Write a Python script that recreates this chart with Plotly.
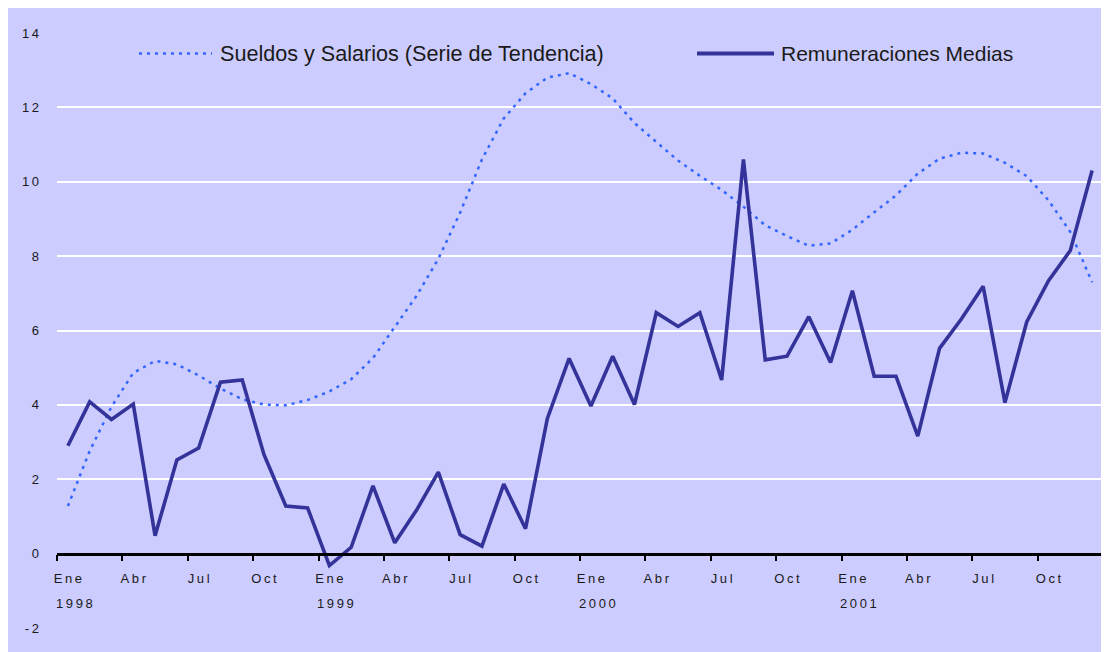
import plotly.graph_objects as go

# ---- data -------------------------------------------------------------
months = ["Ene", "Feb", "Mar", "Abr", "May", "Jun", "Jul", "Ago", "Sep", "Oct", "Nov", "Dic"]
years = ["1998", "1999", "2000", "2001"]

remuneraciones = [
    2.90, 4.08, 3.61, 4.02, 0.48, 2.52, 2.84, 4.61, 4.67, 2.66, 1.28, 1.23,   # 1998
    -0.32, 0.17, 1.82, 0.29, 1.17, 2.19, 0.51, 0.20, 1.87, 0.67, 3.63, 5.25,  # 1999
    3.97, 5.31, 4.01, 6.48, 6.11, 6.48, 4.67, 10.60, 5.21, 5.31, 6.37, 5.14,  # 2000
    7.07, 4.77, 4.77, 3.16, 5.52, 6.31, 7.19, 4.06, 6.23, 7.34, 8.15, 10.30,  # 2001
]
sueldos_tendencia = [
    1.28, 2.76, 3.95, 4.86, 5.18, 5.09, 4.79, 4.44, 4.15, 4.01, 3.99, 4.13,   # 1998
    4.36, 4.69, 5.26, 6.08, 6.93, 7.93, 9.17, 10.60, 11.70, 12.38, 12.80, 12.92,  # 1999
    12.63, 12.24, 11.58, 11.07, 10.57, 10.16, 9.78, 9.33, 8.83, 8.54, 8.28, 8.34,  # 2000
    8.71, 9.18, 9.63, 10.22, 10.62, 10.78, 10.76, 10.51, 10.15, 9.50, 8.65, 7.30,  # 2001
]
series_names = ["Sueldos y Salarios (Serie de Tendencia)", "Remuneraciones Medias"]
y_ticks = [-2, 0, 2, 4, 6, 8, 10, 12, 14]

# ---- derived ----------------------------------------------------------
n = len(remuneraciones)
x_idx = list(range(n))
labels = [m + " " + y for y in years for m in months]

BG = "#CCCCFF"
DOT = "#3366FF"
SOLID = "#333399"
TXT = "#1a1a1a"
FONT = "Liberation Sans, Arial, sans-serif"
THIN = "\u2009"

def spaced(s):
    return THIN.join(list(s))

fig = go.Figure()
fig.add_trace(go.Scatter(
    x=x_idx, y=sueldos_tendencia, mode="lines", name=series_names[0],
    line=dict(color=DOT, width=2.5, dash="3px,5px"), showlegend=False,
    text=labels, hovertemplate="%{text}: %{y:.2f}<extra></extra>"))
fig.add_trace(go.Scatter(
    x=x_idx, y=remuneraciones, mode="lines", name=series_names[1],
    line=dict(color=SOLID, width=3.6), showlegend=False,
    text=labels, hovertemplate="%{text}: %{y:.2f}<extra></extra>"))

major_vals = list(range(0, n, 3))
major_text = [spaced(months[i % 12]) for i in major_vals]
minor_vals = [i - 0.5 for i in range(0, n + 1, 3)]

# the page body adds an 8px offset; figure is sized to fill the rest
OFF = 8
W, H = 1109 - OFF, 652 - OFF
ml, mr, mt, mb = 57 - OFF, 6, 32.5 - OFF, 23.5
pw, ph = W - ml - mr, H - mt - mb

fig.update_layout(
    width=W, height=H,
    margin=dict(l=ml, r=mr, t=mt, b=mb, pad=0),
    paper_bgcolor=BG, plot_bgcolor=BG,
    font=dict(family=FONT, color=TXT, size=13),
    xaxis=dict(
        range=[-0.5, n - 0.5], anchor="free", position=2 / 16,
        showgrid=False, zeroline=False,
        showline=True, linecolor="black", linewidth=2.5,
        tickmode="array", tickvals=major_vals, ticktext=major_text,
        ticks="", ticklabelstandoff=12,
        tickfont=dict(family=FONT, size=13, color=TXT),
        minor=dict(tickmode="array", tickvals=minor_vals, ticks="outside",
                   ticklen=6, tickwidth=2, tickcolor="black", showgrid=False),
    ),
    yaxis=dict(
        range=[-2, 14], tickmode="array", tickvals=y_ticks,
        ticktext=[spaced(str(v)) for v in y_ticks],
        showgrid=True, gridcolor="white", gridwidth=2,
        zeroline=False, showline=False, ticks="",
        ticklabelstandoff=17,
        tickfont=dict(family=FONT, size=13, color=TXT),
    ),
    hovermode="closest",
)

# pixel helpers (window coordinates of the reference)
def px_x(px):
    return (px - OFF - ml) / pw

def px_y(py):
    return 1 - (py - OFF - mt) / ph

# legend panel covering the top gridline
fig.add_shape(type="rect", xref="paper", yref="paper",
              x0=px_x(91), x1=px_x(1056), y0=px_y(40), y1=px_y(26),
              fillcolor=BG, line=dict(width=0), layer="above")
# legend samples
fig.add_shape(type="line", xref="paper", yref="paper",
              x0=px_x(139), x1=px_x(212), y0=px_y(53), y1=px_y(53),
              line=dict(color=DOT, width=2.5, dash="3px,5px"), layer="above")
fig.add_shape(type="line", xref="paper", yref="paper",
              x0=px_x(697), x1=px_x(774), y0=px_y(53), y1=px_y(53),
              line=dict(color=SOLID, width=4), layer="above")
fig.add_annotation(xref="paper", yref="paper", x=px_x(218), y=px_y(53),
                   text=series_names[0], showarrow=False, xanchor="left", yanchor="middle",
                   font=dict(family=FONT, size=21.6, color=TXT))
fig.add_annotation(xref="paper", yref="paper", x=px_x(779), y=px_y(53),
                   text=series_names[1], showarrow=False, xanchor="left", yanchor="middle",
                   font=dict(family=FONT, size=21, color=TXT))

# year labels under January ticks
for k, yr in enumerate(years):
    fig.add_annotation(xref="x", yref="y", x=12 * k + 0.3, y=-1.33,
                       text=spaced(yr), showarrow=False, xanchor="center", yanchor="middle",
                       font=dict(family=FONT, size=13, color=TXT))

fig.write_html("out.html")
